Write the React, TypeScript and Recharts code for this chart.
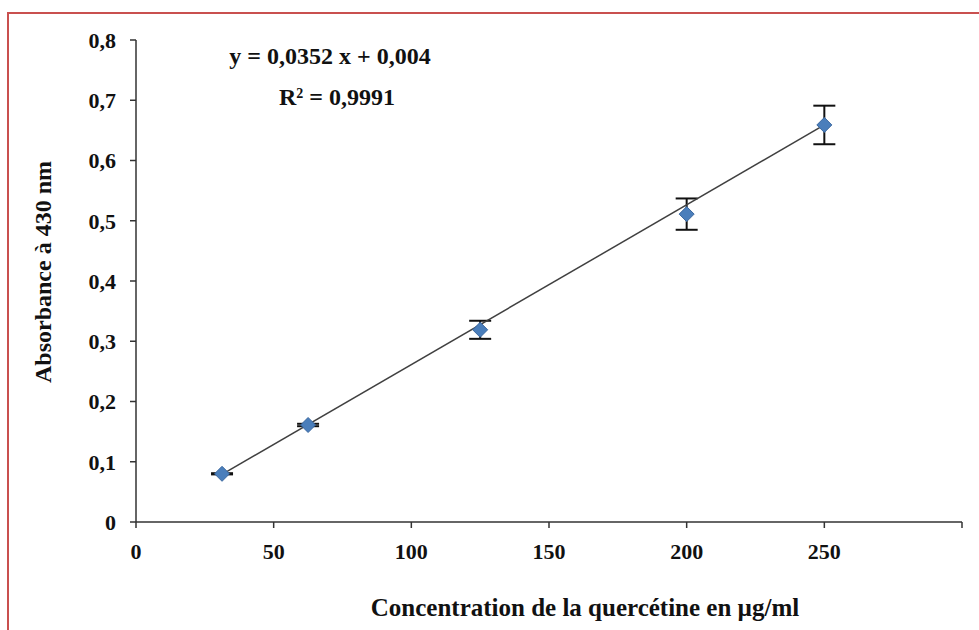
import React from "react";
import {
  ScatterChart,
  Scatter,
  XAxis,
  YAxis,
  ErrorBar,
  Label,
} from "recharts";

// concentrations (µg/ml) and absorbance
const concentrations = [31.25, 62.5, 125, 200, 250];
const absorbance = [0.08, 0.161, 0.319, 0.511, 0.659];
const errors = [0.001, 0.002, 0.015, 0.026, 0.032];

// trend line end points
const trendX = [31.25, 250];
const trendY = [0.079, 0.659];

const xTicks = [0, 50, 100, 150, 200, 250, 300];
const yTicks = [0, 0.1, 0.2, 0.3, 0.4, 0.5, 0.6, 0.7, 0.8];

const points = concentrations.map((x, i) => ({
  x,
  y: absorbance[i],
  err: errors[i],
}));
const trend = trendX.map((x, i) => ({ x, y: trendY[i] }));

const FONT = "'Liberation Serif', 'Times New Roman', serif";

const Diamond = (props: any) => {
  const { cx, cy } = props;
  if (cx == null || cy == null) return <g />;
  const r = 7.5;
  return (
    <polygon
      points={`${cx},${cy - r} ${cx + r},${cy} ${cx},${cy + r} ${cx - r},${cy}`}
      fill="#4a7ebb"
      stroke="#3a679f"
      strokeWidth={1}
    />
  );
};

export default function App() {
  return (
    <div style={{ position: "relative", width: 979, height: 630, background: "#fff" }}>
      <style>{`body{margin:0}`}</style>
      <div
        style={{
          position: "absolute",
          left: 7,
          top: 12,
          right: -10,
          bottom: -10,
          borderTop: "2.5px solid #c9504f",
          borderLeft: "2.5px solid #c9504f",
        }}
      />
      <ScatterChart
        width={979}
        height={630}
        margin={{ top: 40, right: 17, bottom: 0, left: 0 }}
        style={{ position: "absolute", left: 0, top: 0 }}
      >
        <XAxis
          type="number"
          dataKey="x"
          domain={[0, 300]}
          ticks={xTicks}
          interval={0}
          height={108}
          tickSize={6}
          tickMargin={15}
          stroke="#333"
          strokeWidth={1.5}
          tick={{ fill: "#111", fontFamily: FONT, fontWeight: 700, fontSize: 22 }}
          tickFormatter={(v: number) => (v === 300 ? "" : String(v))}
        >
          <Label
            content={() => (
              <text
                x={585}
                y={616}
                textAnchor="middle"
                fontFamily={FONT}
                fontWeight={700}
                fontSize={25}
                fill="#111"
              >
                Concentration de la quercétine en µg/ml
              </text>
            )}
          />
        </XAxis>
        <YAxis
          type="number"
          dataKey="y"
          domain={[0, 0.8]}
          ticks={yTicks}
          interval={0}
          width={136}
          tickSize={6}
          tickMargin={14}
          stroke="#333"
          strokeWidth={1.5}
          tick={{ fill: "#111", fontFamily: FONT, fontWeight: 700, fontSize: 22 }}
          tickFormatter={(v: number) => (v === 0 ? "0" : v.toFixed(1).replace(".", ","))}
        >
          <Label
            content={() => (
              <text
                x={51}
                y={272}
                transform="rotate(-90 51 272)"
                textAnchor="middle"
                fontFamily={FONT}
                fontWeight={700}
                fontSize={24}
                fill="#111"
              >
                Absorbance à 430 nm
              </text>
            )}
          />
        </YAxis>
        <Scatter
          data={trend}
          line={{ stroke: "#404040", strokeWidth: 1.5 }}
          shape={() => <g />}
          isAnimationActive={false}
        />
        <Scatter data={points} shape={Diamond} isAnimationActive={false}>
          <ErrorBar
            dataKey="err"
            direction="y"
            width={11}
            stroke="#111"
            strokeWidth={2}
            isAnimationActive={false}
          />
        </Scatter>
      </ScatterChart>
      <div
        style={{
          position: "absolute",
          left: 200,
          top: 36,
          width: 260,
          textAlign: "center",
          fontFamily: FONT,
          fontWeight: 700,
          fontSize: 24,
          color: "#111",
          lineHeight: "41px",
        }}
      >
        <div>y = 0,0352 x + 0,004</div>
        <div style={{ paddingLeft: 14 }}>
          R<sup style={{ fontSize: 14, verticalAlign: "top", lineHeight: "34px" }}>2</sup> = 0,9991
        </div>
      </div>
    </div>
  );
}
